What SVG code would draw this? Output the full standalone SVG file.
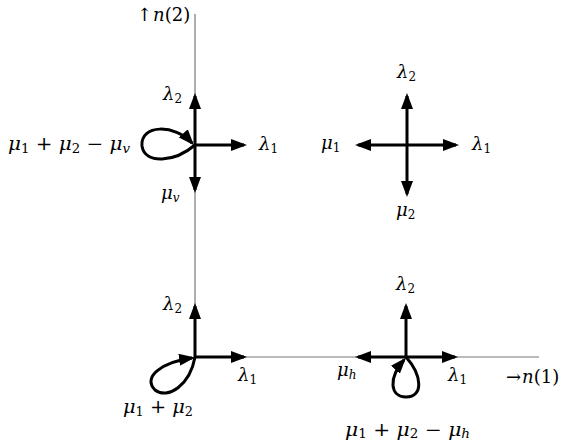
<svg xmlns="http://www.w3.org/2000/svg" width="568" height="443" viewBox="0 0 568 443">
<style>
  .axis { stroke: #777; stroke-width: 1.2; fill: none; }
  .arr { stroke: #000; stroke-width: 3; fill: none; marker-end: url(#head); }
  .loop { stroke: #000; stroke-width: 3; fill: none; marker-end: url(#head); }
  text { font-family: "DejaVu Serif", "Liberation Serif", serif; font-size: 18px; fill: #000; }
  .i { font-style: italic; }
  .s { font-size: 12px; }
</style>
<defs>
  <marker id="head" viewBox="0 0 16 12" refX="13" refY="6" markerWidth="16" markerHeight="12" markerUnits="userSpaceOnUse" orient="auto">
    <path d="M0,0 L16,6 L0,12 Z" fill="#000"/>
  </marker>
</defs>

<g id="axes">
  <line class="axis" x1="195" y1="14" x2="195" y2="357"/>
  <line class="axis" x1="195" y1="357" x2="539" y2="357"/>
  <text x="137" y="21">↑<tspan class="i" dx="1">n</tspan>(2)</text>
  <text x="506" y="383">→<tspan class="i" dx="1">n</tspan>(1)</text>
</g>

<g id="connectors">
  <!-- top-left node -->
  <line class="arr" x1="195" y1="145" x2="195" y2="96"/>
  <line class="arr" x1="195" y1="145" x2="244" y2="145"/>
  <line class="arr" x1="195" y1="145" x2="195" y2="190"/>
  <path class="loop" d="M195,145 C175,162 145,165 142,146 C140,124 175,124 192,143"/>
  <!-- top-right node -->
  <line class="arr" x1="407" y1="145" x2="407" y2="96"/>
  <line class="arr" x1="407" y1="145" x2="456" y2="145"/>
  <line class="arr" x1="407" y1="145" x2="358" y2="145"/>
  <line class="arr" x1="407" y1="145" x2="407" y2="194"/>
  <!-- bottom-left node -->
  <line class="arr" x1="195" y1="357" x2="195" y2="306"/>
  <line class="arr" x1="195" y1="357" x2="244" y2="357"/>
  <path class="loop" d="M195,357 C190,385 168,400 155,390 C142,377 162,362 192,358"/>
  <!-- bottom-right node -->
  <line class="arr" x1="406" y1="357" x2="406" y2="306"/>
  <line class="arr" x1="406" y1="357" x2="455" y2="357"/>
  <line class="arr" x1="406" y1="357" x2="358" y2="357"/>
  <path class="loop" d="M406,357 C422,375 424,397 406,397 C390,397 388,378 404,360"/>
</g>

<g id="node-top-left">
  <text x="163" y="100"><tspan class="i">λ</tspan><tspan class="s" dy="3">2</tspan></text>
  <text x="259" y="150"><tspan class="i">λ</tspan><tspan class="s" dy="3">1</tspan></text>
  <text x="8" y="150" textLength="122" lengthAdjust="spacingAndGlyphs"><tspan class="i">μ</tspan><tspan class="s" dy="3">1</tspan><tspan dy="-3"> + </tspan><tspan class="i">μ</tspan><tspan class="s" dy="3">2</tspan><tspan dy="-3"> − </tspan><tspan class="i">μ</tspan><tspan class="s i" dy="3">v</tspan></text>
  <text x="161" y="199"><tspan class="i">μ</tspan><tspan class="s i" dy="3">v</tspan></text>
</g>

<g id="node-top-right">
  <text x="397" y="78"><tspan class="i">λ</tspan><tspan class="s" dy="3">2</tspan></text>
  <text x="321" y="149"><tspan class="i">μ</tspan><tspan class="s" dy="3">1</tspan></text>
  <text x="472" y="150"><tspan class="i">λ</tspan><tspan class="s" dy="3">1</tspan></text>
  <text x="396" y="216"><tspan class="i">μ</tspan><tspan class="s" dy="3">2</tspan></text>
</g>

<g id="node-bottom-left">
  <text x="163" y="310"><tspan class="i">λ</tspan><tspan class="s" dy="3">2</tspan></text>
  <text x="238" y="381"><tspan class="i">λ</tspan><tspan class="s" dy="3">1</tspan></text>
  <text x="123" y="413" textLength="70" lengthAdjust="spacingAndGlyphs"><tspan class="i">μ</tspan><tspan class="s" dy="3">1</tspan><tspan dy="-3"> + </tspan><tspan class="i">μ</tspan><tspan class="s" dy="3">2</tspan></text>
</g>

<g id="node-bottom-right">
  <text x="396" y="290"><tspan class="i">λ</tspan><tspan class="s" dy="3">2</tspan></text>
  <text x="337" y="376"><tspan class="i">μ</tspan><tspan class="s i" dy="3">h</tspan></text>
  <text x="448" y="381"><tspan class="i">λ</tspan><tspan class="s" dy="3">1</tspan></text>
  <text x="345" y="436" textLength="125" lengthAdjust="spacingAndGlyphs"><tspan class="i">μ</tspan><tspan class="s" dy="2">1</tspan><tspan dy="-2"> + </tspan><tspan class="i">μ</tspan><tspan class="s" dy="2">2</tspan><tspan dy="-2"> − </tspan><tspan class="i">μ</tspan><tspan class="s i" dy="2">h</tspan></text>
</g>
</svg>
